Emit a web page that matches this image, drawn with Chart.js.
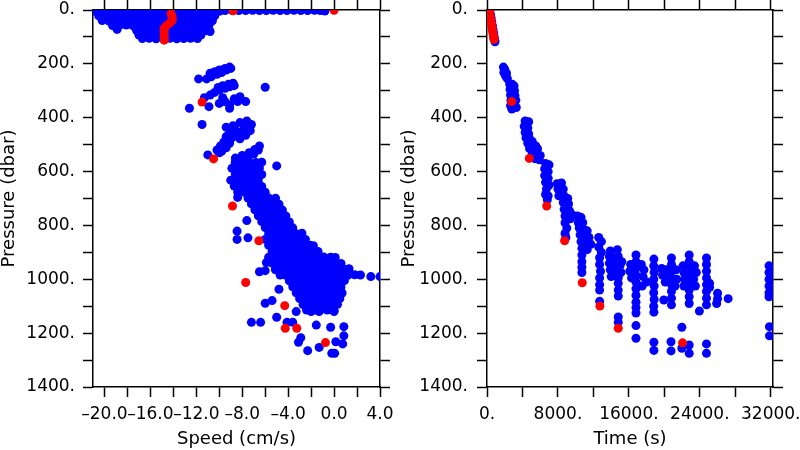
<!DOCTYPE html>
<html>
<head>
<meta charset="utf-8">
<script src="https://cdn.jsdelivr.net/npm/chart.js@4.4.1/dist/chart.umd.min.js"></script>
<style>
  body { margin: 0; background: #fff; }
  canvas { position: absolute; top: 0; }
</style>
</head>
<body>
<canvas id="speedChart" width="400" height="450" style="left:0"></canvas>
<canvas id="timeChart" width="400" height="450" style="left:400px"></canvas>
<script>
// axis ticks
const pressureTicks = [0, 100, 200, 300, 400, 500, 600, 700, 800, 900, 1000, 1100, 1200, 1300, 1400];
const pressureLabelTicks = [0, 200, 400, 600, 800, 1000, 1200, 1400];
const speedTicks = [-20, -18, -16, -14, -12, -10, -8, -6, -4, -2, 0, 2, 4];
const speedLabelTicks = [-20, -16, -12, -8, -4, 0, 4];
const timeTicks = [0, 4000, 8000, 12000, 16000, 20000, 24000, 28000, 32000];
const timeLabelTicks = [0, 8000, 16000, 24000, 32000];

// speed (cm/s) vs pressure (dbar), blue
const speedSurfaceBlue = [
  [-20.8,5],[-20.2,6],[-19.6,5],[-19.0,6],[-18.4,5],[-17.8,6],[-17.2,5],[-16.6,6],[-16.0,5],[-15.4,6],[-14.8,5],[-14.2,6],[-13.6,5],[-13.0,6],[-12.4,5],[-11.8,6],[-11.2,5],[-10.6,6],[-10.0,5],
  [-20.5,22],[-19.9,23],[-19.3,21],[-18.7,22],[-18.1,23],[-17.5,22],[-16.9,21],[-16.3,23],[-15.7,22],[-15.1,21],[-14.5,23],[-13.9,22],[-13.3,21],[-12.7,22],[-12.1,23],[-11.5,22],[-10.9,21],[-10.4,22],
  [-20.2,39],[-19.6,41],[-19.0,40],[-18.4,39],[-17.8,41],[-17.2,40],[-16.6,39],[-16.0,41],[-15.4,40],[-14.8,39],[-14.2,41],[-13.6,40],[-13.0,39],[-12.4,41],[-11.8,40],[-11.2,39],[-10.6,40],
  [-19.3,58],[-18.7,57],[-18.1,56],[-17.5,59],[-16.9,58],[-16.3,57],[-15.7,59],[-15.1,58],[-14.5,57],[-13.9,59],[-13.3,58],[-12.7,57],[-12.1,59],[-11.5,58],[-10.9,57],
  [-18.9,72],[-17.2,76],[-16.6,77],[-16.0,75],[-15.4,76],[-14.8,77],[-14.2,75],[-13.6,76],[-13.0,77],[-12.4,75],[-11.8,76],[-11.2,77],[-10.8,80],
  [-17.0,93],[-16.4,95],[-15.8,94],[-15.2,93],[-14.6,95],[-14.0,94],[-13.4,93],[-12.8,95],[-12.2,94],[-11.6,93],
  [-16.7,106],[-16.1,105],[-15.5,107],[-14.9,106],[-14.3,105],[-13.7,107],[-13.1,106],[-12.5,105],[-11.9,106],
  [-9.5,2],[-8.9,1],[-8.3,2],[-7.7,2],[-7.1,1],[-6.5,2],[-5.9,2],[-5.3,1],[-4.7,2],[-4.1,2],[-3.5,1],[-2.9,2],[-2.3,2],[-1.7,1],[-1.2,2],[-0.8,4]
];
const speedMidBlue = [
  [-11.8,256],[-11.1,256],[-10.7,248],[-10.2,239],[-9.8,232],[-9.4,223],[-9.0,217],[-10.8,235],[-10.4,229],[-10.0,223],[-9.5,217],[-9.1,212],
  [-11.3,326],[-10.8,316],[-10.4,306],[-10.0,297],[-9.5,291],[-9.1,285],[-8.7,281],[-10.1,288],[-9.7,281],[-9.2,276],[-8.8,272],
  [-10.0,347],[-9.5,340],[-9.1,353],[-9.1,365],[-8.7,330],[-8.2,322],[-8.4,340],[-7.7,340],[-9.7,326],[-6.0,287],[-12.6,365],[-10.9,359],[-11.5,425],
  [-7.6,412],[-8.2,418],[-7.2,425],[-8.8,430],[-9.4,435],[-7.8,435],[-8.6,445],[-8.0,450],[-7.3,448],[-9.1,455],[-8.4,462],[-7.7,465],
  [-9.4,470],[-8.9,475],[-8.2,478],[-9.6,490],[-9.1,495],[-9.9,505],[-9.4,512],[-10.2,520],[-9.8,525],[-11.0,538],[-10.0,530],
  [-8.6,550],[-8.0,540],[-7.4,530],[-6.9,518],[-6.5,505],[-8.6,565],[-8.1,555],[-7.5,545],[-7.0,535],[-6.6,520],[-5.0,579]
];
const speedDeepBlue = [
  [-8.6,565],[-8.0,566],[-7.4,564],[-6.8,566],[-6.3,565],
  [-8.9,588],[-8.3,587],[-7.7,589],[-7.1,588],[-6.5,587],
  [-8.6,610],[-8.0,611],[-7.4,609],[-6.8,610],[-6.3,611],
  [-9.0,632],[-8.4,633],[-7.8,631],[-7.2,632],[-6.6,633],
  [-8.7,654],[-8.1,655],[-7.5,653],[-6.9,654],[-6.3,655],
  [-8.4,676],[-7.8,677],[-7.2,675],[-6.6,676],[-6.0,677],
  [-7.5,698],[-6.9,699],[-6.3,697],[-5.7,698],[-5.1,699],
  [-7.2,720],[-6.6,721],[-6.0,719],[-5.4,720],[-4.8,721],
  [-6.9,742],[-6.3,743],[-5.7,741],[-5.1,742],[-4.5,743],
  [-6.6,764],[-6.0,765],[-5.4,763],[-4.8,764],[-4.2,765],
  [-6.3,786],[-5.7,787],[-5.1,785],[-4.5,786],[-3.9,787],
  [-6.0,808],[-5.4,809],[-4.8,807],[-4.2,808],[-3.6,809],
  [-5.7,830],[-5.1,831],[-4.5,829],[-3.9,830],[-3.3,831],[-2.8,829],
  [-6.0,852],[-5.4,853],[-4.8,851],[-4.2,852],[-3.6,853],[-3.0,851],[-2.5,852],
  [-5.7,874],[-5.1,875],[-4.5,873],[-3.9,874],[-3.3,875],[-2.7,873],[-2.1,874],[-1.8,875],
  [-5.4,896],[-4.8,897],[-4.2,895],[-3.6,896],[-3.0,897],[-2.4,895],[-1.8,896],[-1.4,897],
  [-5.7,918],[-5.1,919],[-4.5,917],[-3.9,918],[-3.3,919],[-2.7,917],[-2.1,918],[-1.5,919],[-0.9,917],[-0.3,918],[0.1,919],
  [-5.4,940],[-4.8,941],[-4.2,939],[-3.6,940],[-3.0,941],[-2.4,939],[-1.8,940],[-1.2,941],[-0.6,939],[0.0,940],[0.6,941],
  [-5.1,962],[-4.5,963],[-3.9,961],[-3.3,962],[-2.7,963],[-2.1,961],[-1.5,962],[-0.9,963],[-0.3,961],[0.3,962],[0.9,963],[1.3,961],
  [-4.7,984],[-4.2,985],[-3.6,983],[-3.0,984],[-2.4,985],[-1.8,983],[-1.2,984],[-0.6,985],[0.0,983],[0.6,984],[1.2,985],[1.8,983],
  [-3.9,1006],[-3.3,1007],[-2.7,1005],[-2.1,1006],[-1.5,1007],[-0.9,1005],[-0.3,1006],[0.3,1007],[0.9,1005],
  [-3.6,1028],[-3.0,1029],[-2.4,1027],[-1.8,1028],[-1.2,1029],[-0.6,1027],[0.0,1028],[0.6,1029],
  [-3.3,1050],[-2.7,1051],[-2.1,1049],[-1.5,1050],[-0.9,1051],[-0.3,1049],[0.3,1050],[0.7,1051],
  [-3.0,1072],[-2.4,1073],[-1.8,1071],[-1.2,1072],[-0.6,1073],[0.0,1071],[0.5,1072],
  [-2.7,1094],[-2.1,1095],[-1.5,1093],[-0.9,1094],[-0.3,1095],[0.3,1093],
  [-2.4,1114],[-1.8,1115],[-1.2,1113],[-0.6,1114],[0.0,1115]
];
const speedStrayBlue = [
  [-8.4,696],[-7.6,782],[-8.45,821],[-8.45,852],[-7.5,846],[-5.9,938],[-6.5,972],[-6.0,968],[-5.1,965],[-4.8,1037],
  [-5.4,1079],[-6.0,1089],[-7.2,1160],[-6.4,1160],[-5.0,1141],[-4.1,1160],[-3.6,1160],[-3.3,1120],[-2.0,1120],[-1.3,1120],
  [0.0,1120],[-2.9,1217],[-3.1,1234],[-2.3,1265],[-1.55,1170],[-1.3,1253],[-0.3,1178],[-0.2,1275],[0.05,1275],[0.15,1232],
  [0.75,1240],[0.85,1176],[0.85,1210],[3.2,990],[4.0,990],[2.3,984]
];
const speedRed = [
  [-14.2,14],[-14.1,26],[-14.1,38],[-14.3,48],[-14.6,58],[-14.8,68],[-14.8,80],[-14.8,92],[-14.8,104],[-14.8,112],
  [-8.8,3],[0.0,1],[-11.5,342],[-10.5,553],[-8.85,728],[-6.55,857],[-7.7,1012],[-4.3,1098],[-4.25,1182],[-3.25,1182],[-0.75,1235]
];

// time (s) vs pressure (dbar)
const timeBlue = [
  [330,2],[400,16],[470,30],[540,44],[610,58],[680,72],[750,86],[820,100],[880,112],[900,118],
  [1850,212],[2000,220],[1900,232],[2100,245],[2300,255],[2200,235],
  [2550,275],[2850,276],[3050,282],[2600,295],[3100,300],[2650,315],[3150,318],[2700,335],[3250,335],[2650,355],[3050,360],[3300,362],[2800,368],
  [4300,412],[4700,415],[4200,432],[4600,438],[4300,455],[4700,460],[4400,475],[4800,478],[5100,488],[4600,495],
  [5000,500],[5500,505],[4800,515],[5300,520],[5700,515],[5100,535],[5600,538],[6000,540],[5400,552],[5900,556],
  [6600,570],[7000,575],[6500,590],[6900,600],[6500,615],[6900,625],[6600,640],[7000,650],[6700,665],[6600,685],[6900,690],[6800,705],
  [7900,645],[8400,642],[8000,665],[8600,665],[8100,690],[8700,690],[9100,700],[8600,715],[9200,720],[8700,740],[9300,745],[9600,760],
  [8800,765],[9400,775],[8800,790],[9000,810],[8800,830],[8900,845],
  [10200,765],[10600,770],[10300,790],[10800,790],[10400,810],[10900,815],[11300,820],[10500,835],[11000,840],[11500,845],
  [10600,860],[11200,865],[11700,870],[10700,885],[11300,890],[10700,910],[10700,935],[10700,955],[10700,975],
  [12600,845],[12900,860],[12600,880],[12900,900],[12700,920],[12700,945],[12800,970],[12700,995],[12700,1020],[12700,1040],[12700,1082],
  [13900,895],[14700,890],[13800,915],[14300,920],[14800,915],[15200,935],[13800,940],[14400,945],[15000,950],[13900,965],
  [14700,970],[15100,975],[14000,990],[14800,995],[14800,1015],[14800,1040],[14800,1062],[14800,1140],[14800,1160],
  [16800,910],[16800,935],[16200,945],[17400,945],[16800,960],[16100,970],[17700,965],[16800,985],[16300,995],[17600,990],
  [18000,1010],[16800,1010],[17500,1025],[16800,1035],[16800,1060],[16800,1085],[16800,1105],[16800,1125],[16800,1172],[16800,1219],
  [18820,925],[18800,950],[18850,975],[18800,1000],[18850,1025],[18800,1050],[18850,1075],[18800,1100],[18820,1122],[18820,1234],[18820,1264],
  [20800,921],[20800,945],[19700,960],[20200,965],[20800,970],[21300,965],[19800,985],[20300,990],[20800,995],[21400,1000],
  [20100,1010],[20800,1020],[21200,1025],[20800,1045],[20800,1070],[19940,1077],[20800,1095],[20750,1232],[20750,1266],
  [22800,910],[22800,935],[22100,950],[23400,950],[22800,960],[22200,975],[23600,975],[22800,985],[22300,1000],[23300,1000],
  [22800,1010],[22200,1025],[23500,1025],[22800,1040],[22800,1065],[22800,1090],[23950,1118],[21970,1178],[21970,1256],[22800,1244],[22800,1275],
  [24750,921],[24750,945],[24750,970],[24750,995],[25100,1015],[24750,1020],[25100,1030],[24750,1045],[24750,1070],[24750,1095],[24750,1240],[24750,1275],
  [26000,1052],[26000,1072],[25900,1090],[27190,1072],
  [31800,950],[31800,975],[31800,1000],[31800,1025],[31800,1050],[31800,1065],[31850,1176],[31850,1210]
];
const timeRed = [
  [250,2],[290,10],[330,18],[370,26],[410,34],[450,42],[490,50],[530,58],[570,66],[610,74],[650,82],[690,90],[730,98],[770,106],[800,110],
  [2780,340],[4770,551],[6730,728],[8750,857],[10740,1013],[12730,1099],[14800,1182],[22050,1236]
];

const tickFont = { family: 'DejaVu Sans', size: 17 };
const titleFont = { family: 'DejaVu Sans', size: 18, lineHeight: 1 };
const dotSize = 4.5;

function pressureLabel(v) {
  return pressureLabelTicks.includes(v) ? v + '.' : '';
}
function speedLabel(v) {
  if (!speedLabelTicks.includes(v)) return '';
  return v < 0 ? '\u2013' + Math.abs(v).toFixed(1) : v.toFixed(1);
}
function timeLabel(v) {
  return timeLabelTicks.includes(v) ? v + '.' : '';
}

function edgeAxis(pos, min, max, tickList, size, extra) {
  const horiz = pos === 'top' || pos === 'bottom';
  const axis = {
    type: 'linear',
    position: pos,
    min: min,
    max: max,
    border: { display: true, color: '#000', width: 1.5 },
    grid: { drawOnChartArea: false, drawTicks: true, tickLength: 10, tickWidth: 1.5, tickColor: '#000' },
    afterBuildTicks: s => { s.ticks = tickList.map(v => ({ value: v })); },
    afterFit: s => {
      if (horiz) { s.height = size; s.paddingLeft = 0; s.paddingRight = 0; }
      else { s.width = size; s.paddingTop = 0; s.paddingBottom = 0; }
    },
    ticks: { display: false }
  };
  return Object.assign(axis, extra || {});
}

function makeChart(id, blue, red, xMin, xMax, xTicks, xLabel, xTitle, yWidth, y2Width, yPad) {
  const ctx = document.getElementById(id).getContext('2d');
  return new Chart(ctx, {
    type: 'scatter',
    data: {
      datasets: [
        { data: red, backgroundColor: '#ff0000', pointRadius: dotSize, pointHoverRadius: dotSize, pointBorderWidth: 0, clip: 0 },
        { data: blue, backgroundColor: '#0000ff', pointRadius: dotSize, pointHoverRadius: dotSize, pointBorderWidth: 0, clip: 0 }
      ]
    },
    options: {
      responsive: false,
      animation: false,
      events: [],
      layout: { padding: 0 },
      plugins: { legend: { display: false }, tooltip: { enabled: false } },
      scales: {
        x: edgeAxis('bottom', xMin, xMax, xTicks, 63, {
          ticks: { autoSkip: false, maxRotation: 0, minRotation: 0, padding: 7, color: '#000', font: tickFont, callback: xLabel },
          title: { display: true, text: xTitle, color: '#000', font: titleFont, padding: { top: 0, bottom: 2 } }
        }),
        x2: edgeAxis('top', xMin, xMax, xTicks, 10),
        y: edgeAxis('left', 0, 1400, pressureTicks, yWidth, {
          reverse: true,
          ticks: { autoSkip: false, padding: yPad, color: '#000', font: tickFont, callback: pressureLabel },
          title: { display: true, text: 'Pressure (dbar)', color: '#000', font: titleFont, padding: 0 }
        }),
        y2: edgeAxis('right', 0, 1400, pressureTicks, y2Width, { reverse: true })
      }
    }
  });
}

makeChart('speedChart', speedSurfaceBlue.concat(speedMidBlue, speedDeepBlue, speedStrayBlue), speedRed,
  -21, 4, speedTicks, speedLabel, 'Speed (cm/s)', 93, 20, 8);
makeChart('timeChart', timeBlue, timeRed,
  0, 32250, timeTicks, timeLabel, 'Time (s)', 87, 27, 9);
</script>
</body>
</html>
